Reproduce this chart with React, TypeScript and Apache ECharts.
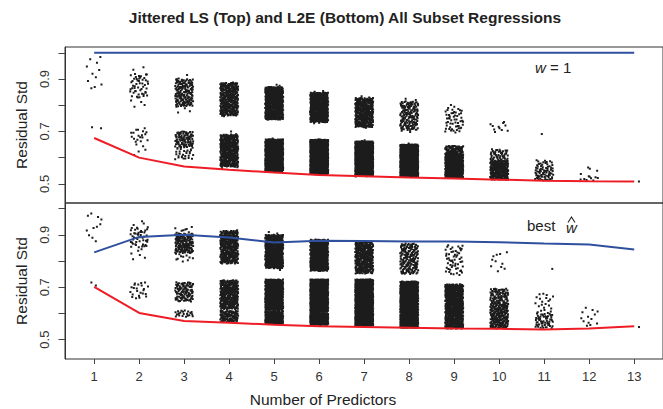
import { useEffect, useRef } from 'react';
import * as echarts from 'echarts';

// ---------- data ----------
const predictors = [1, 2, 3, 4, 5, 6, 7, 8, 9, 10, 11, 12, 13];
const yTicks = [0.5, 0.6, 0.7, 0.8, 0.9, 1.0];
const yTickLabels = [0.5, 0.7, 0.9];

// LS (top): w = 1 line and minimum residual std line
const lsBlue = [1.0, 1.0, 1.0, 1.0, 1.0, 1.0, 1.0, 1.0, 1.0, 1.0, 1.0, 1.0, 1.0];
const lsRed = [0.675, 0.600, 0.566, 0.554, 0.543, 0.534, 0.529, 0.524, 0.520, 0.516, 0.512, 0.510, 0.509];

// L2E (bottom): best w-hat line and minimum residual std line
const l2eBlue = [0.833, 0.892, 0.900, 0.890, 0.871, 0.877, 0.876, 0.875, 0.875, 0.872, 0.867, 0.863, 0.844];
const l2eRed = [0.701, 0.602, 0.571, 0.564, 0.557, 0.551, 0.548, 0.545, 0.542, 0.541, 0.539, 0.542, 0.551];

// jittered subset clouds: [predictors, low residual std, high residual std, number of subsets]
const lsBands = [
  [1, 0.860, 0.985, 11], [1, 0.712, 0.722, 2],
  [2, 0.830, 0.920, 40], [2, 0.790, 0.948, 15], [2, 0.660, 0.712, 18], [2, 0.600, 0.660, 5],
  [3, 0.795, 0.900, 140], [3, 0.771, 0.917, 25], [3, 0.640, 0.700, 90], [3, 0.592, 0.640, 31],
  [4, 0.760, 0.885, 300], [4, 0.755, 0.891, 30], [4, 0.565, 0.688, 360], [4, 0.558, 0.700, 25],
  [5, 0.745, 0.870, 430], [5, 0.740, 0.880, 32], [5, 0.545, 0.670, 800], [5, 0.541, 0.676, 25],
  [6, 0.735, 0.848, 430], [6, 0.730, 0.855, 32], [6, 0.537, 0.668, 1220], [6, 0.534, 0.672, 34],
  [7, 0.716, 0.828, 300], [7, 0.710, 0.836, 30], [7, 0.531, 0.662, 1350], [7, 0.527, 0.668, 36],
  [8, 0.704, 0.815, 140], [8, 0.698, 0.825, 25], [8, 0.526, 0.650, 1090], [8, 0.522, 0.656, 32],
  [9, 0.700, 0.790, 40], [9, 0.694, 0.805, 15], [9, 0.522, 0.615, 580], [9, 0.615, 0.645, 80],
  [10, 0.695, 0.740, 11], [10, 0.516, 0.590, 230], [10, 0.590, 0.632, 45],
  [11, 0.690, 0.690, 1], [11, 0.512, 0.560, 55], [11, 0.560, 0.592, 22],
  [12, 0.511, 0.530, 9], [12, 0.530, 0.566, 4],
  [13, 0.509, 0.509, 1],
];

const l2eBands = [
  [1, 0.870, 0.995, 11], [1, 0.700, 0.722, 2],
  [2, 0.850, 0.930, 35], [2, 0.806, 0.953, 20], [2, 0.657, 0.720, 23],
  [3, 0.830, 0.905, 120], [3, 0.797, 0.931, 45], [3, 0.645, 0.720, 100], [3, 0.586, 0.612, 21],
  [4, 0.790, 0.915, 300], [4, 0.788, 0.921, 30], [4, 0.616, 0.727, 290], [4, 0.567, 0.611, 95],
  [5, 0.772, 0.900, 440], [5, 0.765, 0.911, 22], [5, 0.612, 0.730, 600], [5, 0.561, 0.608, 225],
  [6, 0.762, 0.882, 462], [6, 0.606, 0.730, 850], [6, 0.556, 0.602, 404],
  [7, 0.752, 0.873, 330], [7, 0.603, 0.730, 900], [7, 0.553, 0.600, 486],
  [8, 0.750, 0.867, 165], [8, 0.599, 0.722, 700], [8, 0.545, 0.596, 422],
  [9, 0.746, 0.861, 55], [9, 0.542, 0.711, 660],
  [10, 0.755, 0.840, 11], [10, 0.542, 0.640, 200], [10, 0.640, 0.695, 75],
  [11, 0.770, 0.770, 1], [11, 0.543, 0.600, 55], [11, 0.600, 0.677, 22],
  [12, 0.548, 0.625, 13],
  [13, 0.548, 0.548, 1],
];

// ---------- styling ----------
const FONT = '"Liberation Sans", Arial, Helvetica, sans-serif';
const TEXT = '#222222';
const DOT = '#1c1c1c';
const BLUE = '#2f4f9f';
const RED = '#ee1c24';
const JIT = 0.2;
const DR = 1;

// deterministic Halton layout used to spread each band's dots (jitter look)
function halton(i: number, base: number) {
  let f = 1;
  let r = 0;
  let n = i;
  while (n > 0) {
    f /= base;
    r += f * (n % base);
    n = Math.floor(n / base);
  }
  return r;
}

function renderBand(params: any, api: any) {
  const k = api.value(0) as number;
  const lo = api.value(1) as number;
  const hi = api.value(2) as number;
  const n = api.value(3) as number;
  const a = api.coord([k - JIT, hi]);
  const b = api.coord([k + JIT, lo]);
  const off = params.dataIndex * 53 + (params.seriesIndex || 0) * 211 + 17;
  let d = '';
  let minX = Infinity, minY = Infinity, maxX = -Infinity, maxY = -Infinity;
  for (let i = 0; i < n; i++) {
    const t = i + off;
    const u = halton(t, 2);
    const v = halton(t, 3);
    const x = a[0] + u * (b[0] - a[0]);
    const y = a[1] + v * (b[1] - a[1]);
    const x0 = x - DR, y0 = y - DR;
    d += `M${x0.toFixed(2)} ${y0.toFixed(2)}h${2 * DR}v${2 * DR}h${-2 * DR}z`;
    if (x0 < minX) minX = x0;
    if (y0 < minY) minY = y0;
    if (x0 + 2 * DR > maxX) maxX = x0 + 2 * DR;
    if (y0 + 2 * DR > maxY) maxY = y0 + 2 * DR;
  }
  if (!d) return null;
  return {
    type: 'path',
    shape: { pathData: d, x: minX, y: minY, width: maxX - minX, height: maxY - minY, layout: 'cover' },
    style: { fill: DOT },
  };
}

function xAxisFor(gridIndex: number, withLabels: boolean) {
  return {
    type: 'value',
    gridIndex,
    min: 0.352,
    max: 13.64,
    axisLine: { show: false },
    splitLine: { show: false },
    axisTick: withLabels
      ? { show: true, length: 5, customValues: predictors, lineStyle: { color: '#444', width: 1 } }
      : { show: false },
    axisLabel: withLabels
      ? { show: true, customValues: predictors, margin: 11, fontSize: 13, color: '#333', fontFamily: FONT }
      : { show: false },
  };
}

function yAxisFor(gridIndex: number, min: number, max: number) {
  return {
    type: 'value',
    gridIndex,
    min,
    max,
    name: 'Residual Std',
    nameLocation: 'middle',
    nameGap: 36,
    nameTextStyle: { fontSize: 15.5, color: TEXT, fontFamily: FONT },
    axisLine: { show: true, lineStyle: { color: '#333', width: 1 } },
    splitLine: { show: false },
    axisTick: { show: true, length: 6.5, customValues: yTicks, lineStyle: { color: '#444', width: 1 } },
    axisLabel: {
      show: true,
      customValues: yTickLabels,
      rotate: 90,
      margin: 14,
      fontSize: 13,
      color: '#333',
      fontFamily: FONT,
      formatter: (v: number) => v.toFixed(1),
    },
  };
}

function lineSeries(name: string, idx: number, values: number[], color: string) {
  return {
    type: 'line',
    name,
    xAxisIndex: idx,
    yAxisIndex: idx,
    data: predictors.map((p, i) => [p, values[i]]),
    symbol: 'none',
    lineStyle: { color, width: 2 },
    z: 5,
    silent: true,
  };
}

export default function App() {
  const ref = useRef<HTMLDivElement>(null);

  useEffect(() => {
    if (!ref.current) return;
    const chart = echarts.init(ref.current, null, { renderer: 'svg' });
    chart.setOption({
      animation: false,
      backgroundColor: '#ffffff',
      textStyle: { fontFamily: FONT },
      grid: [
        { left: 65, right: -9, top: 47, height: 156, show: true, borderColor: '#333', borderWidth: 1, backgroundColor: 'transparent' },
        { left: 65, right: -9, top: 203, height: 156, show: true, borderColor: '#333', borderWidth: 1, backgroundColor: 'transparent' },
      ],
      xAxis: [xAxisFor(0, false), xAxisFor(1, true)],
      yAxis: [yAxisFor(0, 0.427, 1.022), yAxisFor(1, 0.426, 1.0215)],
      series: [
        {
          type: 'custom',
          name: 'LS subsets',
          xAxisIndex: 0,
          yAxisIndex: 0,
          renderItem: renderBand,
          data: lsBands,
          encode: { x: 0, y: [1, 2] },
          z: 2,
          silent: true,
        },
        {
          type: 'custom',
          name: 'L2E subsets',
          xAxisIndex: 1,
          yAxisIndex: 1,
          renderItem: renderBand,
          data: l2eBands,
          encode: { x: 0, y: [1, 2] },
          z: 2,
          silent: true,
        },
        lineSeries('LS w=1', 0, lsBlue, BLUE),
        lineSeries('LS min', 0, lsRed, RED),
        lineSeries('L2E best w', 1, l2eBlue, BLUE),
        lineSeries('L2E min', 1, l2eRed, RED),
      ],
      graphic: [
        {
          type: 'text',
          x: 345,
          y: 17,
          style: {
            text: 'Jittered LS (Top) and L2E (Bottom) All Subset Regressions',
            fontSize: 15.5,
            fontWeight: 'bold',
            fontFamily: FONT,
            fill: TEXT,
            textAlign: 'center',
            textVerticalAlign: 'middle',
          },
        },
        {
          type: 'text',
          x: 323,
          y: 399,
          style: {
            text: 'Number of Predictors',
            fontSize: 15.5,
            fontFamily: FONT,
            fill: TEXT,
            textAlign: 'center',
            textVerticalAlign: 'middle',
          },
        },
        {
          type: 'text',
          x: 535,
          y: 67,
          style: {
            text: '{i|w} = 1',
            fontSize: 15,
            fontFamily: FONT,
            fill: TEXT,
            textAlign: 'left',
            textVerticalAlign: 'middle',
            rich: { i: { fontStyle: 'italic', fontSize: 15, fontFamily: FONT, fill: TEXT } },
          },
        },
        {
          type: 'text',
          x: 527,
          y: 225.5,
          style: {
            text: 'best',
            fontSize: 15,
            fontFamily: FONT,
            fill: TEXT,
            textAlign: 'left',
            textVerticalAlign: 'middle',
          },
        },
        {
          type: 'text',
          x: 566,
          y: 227,
          style: {
            text: 'w',
            fontSize: 15,
            fontStyle: 'italic',
            fontFamily: FONT,
            fill: TEXT,
            textAlign: 'left',
            textVerticalAlign: 'middle',
          },
        },
        {
          type: 'polyline',
          shape: { points: [[568, 222.5], [571.5, 217], [575, 222.5]] },
          style: { stroke: TEXT, lineWidth: 1.1, fill: null },
        },
      ],
    });
    return () => chart.dispose();
  }, []);

  return <div ref={ref} style={{ position: 'absolute', left: 0, top: 0, width: 663, height: 409 }} />;
}
